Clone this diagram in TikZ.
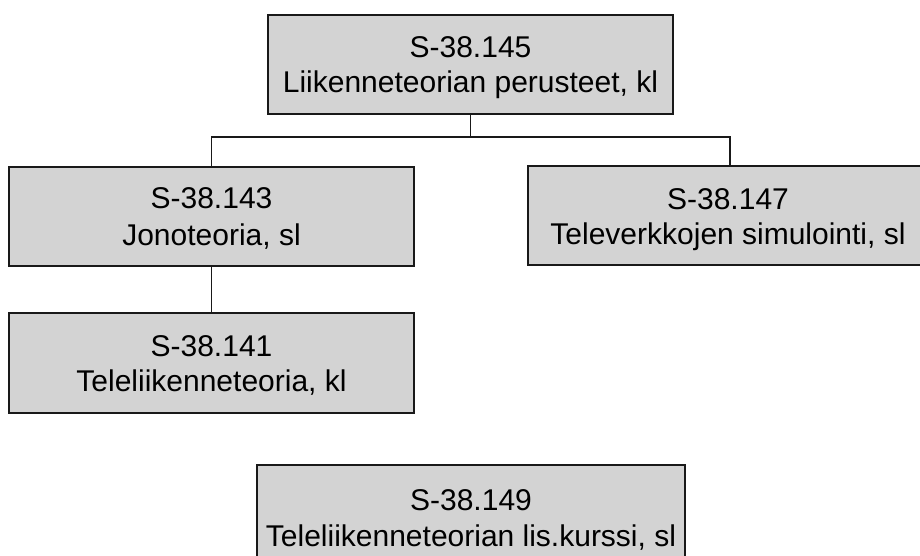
\documentclass[tikz,border=0pt]{standalone}
\usepackage{fontspec}
\setmainfont{Liberation Sans}
\begin{document}
\begin{tikzpicture}[x=1pt,y=-1pt,
  coursebox/.style={draw=black!90, fill=boxgray, line width=1.8pt, inner sep=0pt, outer sep=0pt},
  txt/.style={anchor=base, inner sep=0pt, font=\fontsize{30}{35}\selectfont},
  link/.style={draw=black!90, line width=1.8pt}]
\definecolor{boxgray}{RGB}{211,211,211}
\useasboundingbox (0,0) rectangle (920,556);
\node[coursebox, minimum width=405, minimum height=99] (b145) at (470.5,64.5) {};
\node[coursebox, minimum width=405, minimum height=99] (b143) at (211.5,216.5) {};
\node[coursebox, minimum width=404, minimum height=99] (b147) at (730,215.5) {};
\node[coursebox, minimum width=405, minimum height=100] (b141) at (211.5,363) {};
\node[coursebox, minimum width=428, minimum height=105] (b149) at (471,517.5) {};
\node[txt] (t1) at (470.5,58) {S-38.145};
\node[txt] (t2) at (470.5,93) {Liikenneteorian perusteet, kl};
\node[txt] (j1) at (211.5,208) {S-38.143};
\node[txt] (j2) at (211.5,245) {Jonoteoria, sl};
\node[txt] (s1) at (728,209) {S-38.147};
\node[txt] (s2) at (728,244) {Televerkkojen simulointi, sl};
\node[txt] (l1) at (211.5,356) {S-38.141};
\node[txt] (l2) at (211.5,391) {Teleliikenneteoria, kl};
\node[txt] (k1) at (471,510) {S-38.149};
\node[txt] (k2) at (471,546) {Teleliikenneteorian lis.kurssi, sl};
\draw[link] (b145.south) -- ++(0,23) coordinate (mid);
\draw[link] (b143.north) |- (mid) -| (b147.north);
\draw[link] (b143.south) -- (b141.north);
\end{tikzpicture}
\end{document}
